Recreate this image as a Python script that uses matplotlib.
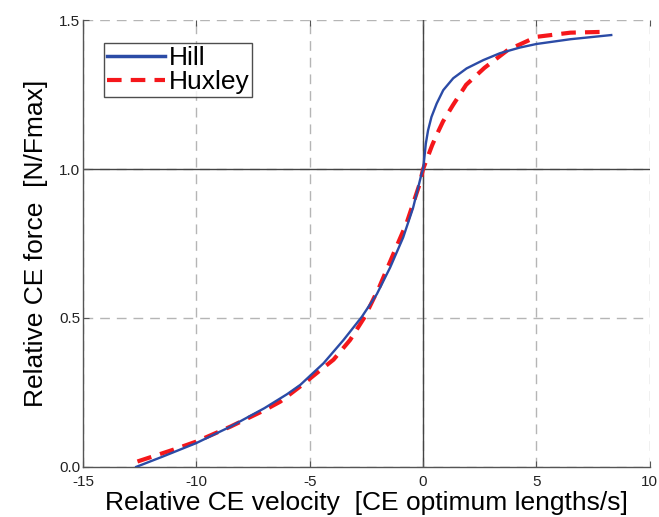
import numpy as np
import matplotlib
matplotlib.use('Agg')
from matplotlib import pyplot as plt

# values
hill_v = [-12.65, -11.5, -10.0, -8.5, -7.0, -6.0, -5.42, -4.39, -3.51, -2.7, -2.04,
          -1.45, -0.88, -0.44, -0.07, 0.0, 0.03, 0.12, 0.22, 0.37, 0.6, 0.89, 1.33,
          1.92, 2.66, 3.39, 4.27, 5.0, 6.5, 8.3]
hill_f = [0.0, 0.034, 0.08, 0.135, 0.197, 0.244, 0.275, 0.348, 0.426, 0.504, 0.58,
          0.67, 0.77, 0.87, 0.983, 1.0, 1.018, 1.085, 1.13, 1.175, 1.22, 1.265, 1.305,
          1.338, 1.366, 1.389, 1.408, 1.42, 1.436, 1.45]

huxley_v = [-12.6, -11.0, -10.0, -8.5, -7.0, -6.3, -5.42, -4.69, -3.95, -3.22, -2.57,
            -1.92, -1.17, -0.73, -0.15, 0.0, 0.2, 0.4, 0.6, 0.88, 1.32, 1.9, 2.71,
            3.74, 5.0, 6.5, 8.1]
huxley_f = [0.018, 0.058, 0.085, 0.135, 0.19, 0.219, 0.27, 0.315, 0.36, 0.426, 0.504,
            0.606, 0.74, 0.818, 0.95, 1.0, 1.04, 1.08, 1.115, 1.16, 1.215, 1.283, 1.34,
            1.40, 1.444, 1.458, 1.461]

x_ticks = [-15, -10, -5, 0, 5, 10]
y_ticks = [0.0, 0.5, 1.0, 1.5]

plt.rcParams['font.family'] = ['Liberation Sans', 'DejaVu Sans']
plt.rcParams['axes.unicode_minus'] = False

fig = plt.figure(figsize=(6.59, 5.17), dpi=100)
ax = fig.add_axes([0.126, 0.097, 0.86, 0.864])

for x in x_ticks:
    ax.axvline(x, color='#b5b5b5', lw=1.0, ls=(0, (7, 5)), zorder=0)
for y in y_ticks:
    ax.axhline(y, color='#b5b5b5', lw=1.0, ls=(0, (7, 5)), zorder=0)
ax.axvline(0, color='#444444', lw=1.0, zorder=1)
ax.axhline(1.0, color='#444444', lw=1.0, zorder=1)

ax.plot(hill_v, hill_f, color='#2b4ba6', lw=1.7, label='Hill', zorder=3)
ax.plot(huxley_v, huxley_f, color='#f5171b', lw=3.0, ls=(0, (3.5, 2.2)),
        label='Huxley', zorder=2)

ax.set_xlim(-15, 10)
ax.set_ylim(0, 1.5)
ax.set_xticks(x_ticks)
ax.set_yticks(y_ticks)
ax.set_yticklabels(['%.1f' % y for y in y_ticks])
ax.tick_params(direction='in', length=4, color='#555555', labelcolor='#222222',
               labelsize=11, top=True)
ax.tick_params(axis='y', pad=2)
ax.tick_params(axis='x', pad=6)
for s in ['top', 'right']:
    ax.spines[s].set_visible(False)
for s in ['left', 'bottom']:
    ax.spines[s].set_color('#555555')
    ax.spines[s].set_linewidth(1.0)

ax.set_xlabel('Relative CE velocity  [CE optimum lengths/s]', fontsize=19, labelpad=1)
ax.set_ylabel('Relative CE force  [N/Fmax]', fontsize=19, labelpad=8)

leg = ax.legend(loc='upper left', bbox_to_anchor=(0.037, 0.948), fontsize=19,
                frameon=True, fancybox=False, handlelength=2.2, handletextpad=0.15,
                borderpad=0.1, labelspacing=0.0, borderaxespad=0)
leg.get_frame().set_edgecolor('#222222')
leg.get_frame().set_linewidth(1.0)
leg.get_lines()[0].set_linewidth(2.5)

plt.savefig('out.png', dpi=100)
